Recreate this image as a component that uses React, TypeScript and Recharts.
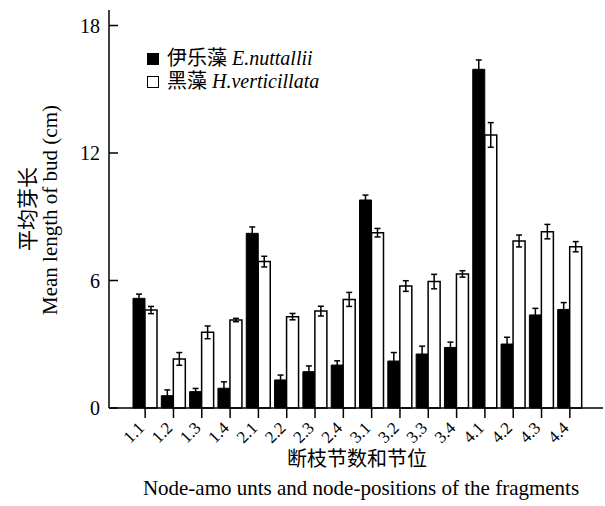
import { BarChart, Bar, XAxis, YAxis, ErrorBar, Label } from "recharts";

const nodes = ["1.1", "1.2", "1.3", "1.4", "2.1", "2.2", "2.3", "2.4", "3.1", "3.2", "3.3", "3.4", "4.1", "4.2", "4.3", "4.4"];
const elodea = [5.16, 0.58, 0.77, 0.93, 8.22, 1.32, 1.71, 2.02, 9.79, 2.21, 2.54, 2.85, 15.94, 3.01, 4.38, 4.64];
const elodeaSE = [0.2, 0.27, 0.15, 0.3, 0.3, 0.23, 0.27, 0.2, 0.23, 0.4, 0.37, 0.25, 0.44, 0.32, 0.31, 0.32];
const hydrilla = [4.61, 2.31, 3.56, 4.14, 6.89, 4.3, 4.56, 5.11, 8.25, 5.74, 5.95, 6.31, 12.85, 7.86, 8.3, 7.59];
const hydrillaSE = [0.17, 0.3, 0.3, 0.08, 0.25, 0.15, 0.23, 0.33, 0.2, 0.25, 0.34, 0.15, 0.58, 0.28, 0.34, 0.24];
const yTicks = [0, 6, 12, 18];

const data = nodes.map((n, i) => ({
  node: n,
  eLen: elodea[i],
  eErr: elodeaSE[i],
  hLen: hydrilla[i],
  hErr: hydrillaSE[i],
}));

const FONT = '"Liberation Serif", "Times New Roman", "Noto Sans CJK SC", serif';
const AXIS_X = 109; // left edge of plot = YAxis width

const YTick = (props: any) => {
  const { y, payload } = props;
  return (
    <g>
      <line x1={AXIS_X} x2={AXIS_X + 9} y1={y} y2={y} stroke="#000" strokeWidth={1.5} />
      <text x={AXIS_X - 9} y={y} dy={7} textAnchor="end" fontFamily={FONT} fontSize={20} fill="#000">
        {payload.value}
      </text>
    </g>
  );
};

const XTick = (props: any) => {
  const { x, y, payload } = props;
  return (
    <g transform={`translate(${x},${y + 9}) rotate(-45)`}>
      <text x={0} y={0} textAnchor="end" fontFamily={FONT} fontSize={17} fill="#000">
        {payload.value}
      </text>
    </g>
  );
};

const YTitle = (props: any) => {
  const vb = props.viewBox;
  const cy = vb.y + vb.height / 2;
  return (
    <g fontFamily={FONT} fontSize={21} fill="#000" textAnchor="middle">
      <text transform={`translate(${vb.x + 35},${cy}) rotate(-90)`}>平均芽长</text>
      <text transform={`translate(${vb.x + 57},${cy + 1}) rotate(-90)`}>Mean length of bud (cm)</text>
    </g>
  );
};

const XTitle = (props: any) => {
  const vb = props.viewBox;
  const cx = vb.x + vb.width / 2;
  return (
    <g fontFamily={FONT} fill="#000" textAnchor="middle">
      <text x={cx + 1} y={vb.y + 58} fontSize={20}>断枝节数和节位</text>
      <text x={cx + 5} y={vb.y + 87} fontSize={21}>Node-amo unts and node-positions of the fragments</text>
    </g>
  );
};

const legendItems = [
  { fill: "#000", cn: "伊乐藻", latin: "E.nuttallii" },
  { fill: "#fff", cn: "黑藻", latin: "H.verticillata" },
];

export default function App() {
  return (
    <div style={{ position: "absolute", left: 0, top: 0, width: 605, height: 506, background: "#fff" }}>
      <BarChart
        width={605}
        height={506}
        data={data}
        margin={{ top: 10, right: 2, left: 0, bottom: 0 }}
        barCategoryGap={2}
        barGap={0}
      >
        <XAxis
          dataKey="node"
          height={98}
          interval={0}
          padding={{ left: 22, right: 19 }}
          tickSize={10}
          tickLine={{ stroke: "#000", strokeWidth: 1.5 }}
          axisLine={{ stroke: "#000", strokeWidth: 1.5 }}
          tick={<XTick />}
        >
          <Label content={<XTitle />} />
        </XAxis>
        <YAxis
          width={AXIS_X}
          domain={[0, 18.73]}
          ticks={yTicks}
          interval={0}
          tickLine={false}
          axisLine={{ stroke: "#000", strokeWidth: 1.5 }}
          tick={<YTick />}
        >
          <Label content={<YTitle />} />
        </YAxis>
        <Bar dataKey="eLen" fill="#000" stroke="#000" strokeWidth={1} isAnimationActive={false}>
          <ErrorBar dataKey="eErr" width={3} stroke="#000" strokeWidth={1.5} />
        </Bar>
        <Bar dataKey="hLen" fill="#fff" stroke="#000" strokeWidth={1.5} isAnimationActive={false}>
          <ErrorBar dataKey="hErr" width={3} stroke="#000" strokeWidth={1.5} />
        </Bar>
      </BarChart>
      <div
        style={{
          position: "absolute", left: 147, top: 47,
          fontFamily: FONT, fontSize: 20, color: "#000", lineHeight: "23px",
        }}
      >
        {legendItems.map((it) => (
          <div key={it.latin} style={{ display: "flex", alignItems: "center", whiteSpace: "nowrap" }}>
            <span style={{ width: 10, height: 10, background: it.fill, border: "1.5px solid #000", marginRight: 8 }} />
            {it.cn}&nbsp;<i>{it.latin}</i>
          </div>
        ))}
      </div>
    </div>
  );
}
